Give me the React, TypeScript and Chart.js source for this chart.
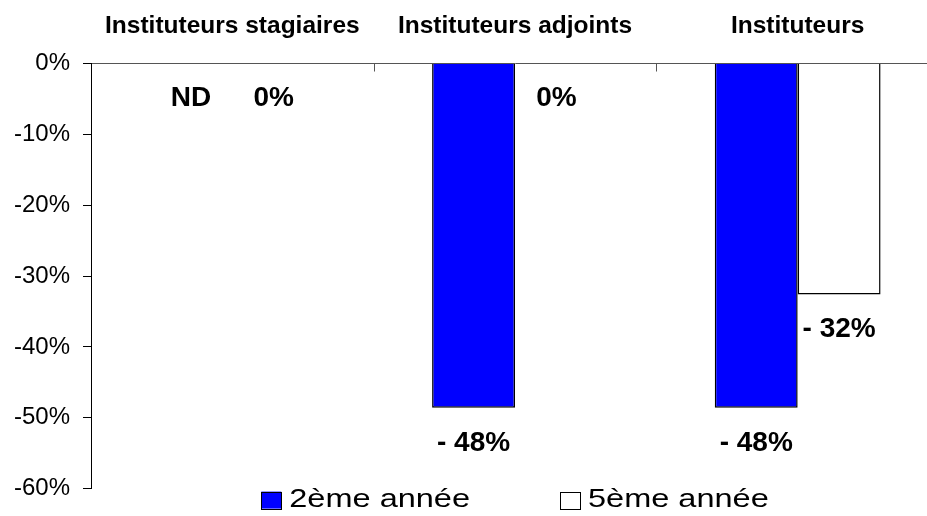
import React, { useEffect, useRef } from 'react';
import { Chart, registerables } from 'chart.js';

Chart.register(...registerables);

// ---- data ----
const categories = ['Instituteurs stagiaires', 'Instituteurs adjoints', 'Instituteurs'];
const seriesNames = ['2ème année', '5ème année'];
const values2eme: (number | null)[] = [null, -48.6, -48.6];
const values5eme: (number | null)[] = [0, 0, -32.6];
const valueLabels2eme = ['ND', '- 48%', '- 48%'];
const valueLabels5eme = ['0%', '0%', '- 32%'];
const yMin = -60;
const yMax = 0;
const yStep = 10;
const yTickSuffix = '%';

const seriesColors = ['#0000FF', '#FFFFFF'];
const allValueLabels = [valueLabels2eme, valueLabels5eme];

const FONT = '"Liberation Sans", Arial, Helvetica, sans-serif';

const valueLabelPlugin = {
  id: 'valueLabels',
  afterDatasetsDraw(chart: any) {
    const ctx = chart.ctx;
    const ys = chart.scales.y;
    ctx.save();
    ctx.font = `bold 28px ${FONT}`;
    ctx.fillStyle = '#000';
    ctx.textAlign = 'center';
    ctx.textBaseline = 'middle';
    chart.data.datasets.forEach((ds: any, di: number) => {
      const meta = chart.getDatasetMeta(di);
      const labels = allValueLabels[di];
      meta.data.forEach((el: any, i: number) => {
        const v = ds.data[i];
        const y = ys.getPixelForValue(v == null ? 0 : v) + 35;
        ctx.fillText(labels[i], el.x, y);
      });
    });
    ctx.restore();
  },
};

const inwardTickPlugin = {
  id: 'inwardTicks',
  afterDraw(chart: any) {
    const ctx = chart.ctx;
    const xs = chart.scales.x;
    const top = chart.chartArea.top;
    ctx.save();
    ctx.strokeStyle = '#555';
    ctx.lineWidth = 1;
    ctx.beginPath();
    for (let i = 0; i < categories.length - 1; i++) {
      const px = Math.round((xs.getPixelForValue(i) + xs.getPixelForValue(i + 1)) / 2) + 0.5;
      ctx.moveTo(px, top);
      ctx.lineTo(px, top + 8);
    }
    ctx.stroke();
    ctx.restore();
  },
};

const legendPlugin = {
  id: 'stretchedLegend',
  afterDraw(chart: any) {
    const ctx = chart.ctx;
    const area = chart.chartArea;
    const stretch = 1.3;
    const boxW = 20;
    const boxH = 17;
    const gap = 8;
    const itemGap = 90;
    ctx.save();
    ctx.font = `25px ${FONT}`;
    const items = chart.data.datasets.map((ds: any) => {
      const tw = ctx.measureText(ds.label).width * stretch;
      return { label: ds.label, color: ds.backgroundColor, w: boxW + gap + tw };
    });
    const total = items.reduce((a: number, it: any) => a + it.w, 0) + itemGap * (items.length - 1);
    let x = (area.left + area.right) / 2 - total / 2;
    const cy = area.bottom + 11.5;
    items.forEach((it: any) => {
      ctx.fillStyle = it.color;
      ctx.fillRect(x, cy - boxH / 2, boxW, boxH);
      ctx.strokeStyle = '#000';
      ctx.lineWidth = 1;
      ctx.strokeRect(Math.round(x) + 0.5, Math.round(cy - boxH / 2) + 0.5, boxW, boxH);
      ctx.save();
      ctx.translate(x + boxW + gap, cy);
      ctx.scale(stretch, 1);
      ctx.fillStyle = '#000';
      ctx.textAlign = 'left';
      ctx.textBaseline = 'middle';
      ctx.fillText(it.label, 0, 0);
      ctx.restore();
      x += it.w + itemGap;
    });
    ctx.restore();
  },
};

export default function App() {
  const ref = useRef<HTMLCanvasElement>(null);

  useEffect(() => {
    if (!ref.current) return;
    Chart.defaults.font.family = FONT;
    const chart = new Chart(ref.current, {
      type: 'bar',
      data: {
        labels: categories,
        datasets: [
          {
            label: seriesNames[0],
            data: values2eme,
            backgroundColor: seriesColors[0],
            borderColor: '#000',
            borderWidth: 1.5,
          },
          {
            label: seriesNames[1],
            data: values5eme,
            backgroundColor: seriesColors[1],
            borderColor: '#000',
            borderWidth: 1.5,
          },
        ],
      },
      options: {
        responsive: false,
        animation: false,
        devicePixelRatio: 1,
        layout: { padding: { left: 0, top: 0, right: 6, bottom: 26 } },
        datasets: { bar: { barPercentage: 1, categoryPercentage: 0.5866 } },
        plugins: { legend: { display: false }, tooltip: { enabled: false } },
        scales: {
          x: {
            position: 'top',
            grid: { display: false, drawTicks: false },
            border: { display: true, color: '#555', width: 1 },
            ticks: { font: { size: 24.5, weight: 'bold' }, color: '#000', padding: 23, maxRotation: 0 },
            afterFit: (s: any) => {
              s.height = 63.5;
            },
          },
          y: {
            min: yMin,
            max: yMax,
            ticks: {
              stepSize: yStep,
              callback: (v: any) => `${v}${yTickSuffix}`,
              font: { size: 24 },
              color: '#000',
              padding: 13,
            },
            grid: { drawOnChartArea: false, tickLength: 8, color: '#000' },
            border: { color: '#000', width: 1 },
            afterFit: (s: any) => {
              s.width = 91;
            },
          },
        },
      } as any,
      plugins: [valueLabelPlugin, inwardTickPlugin, legendPlugin],
    });
    return () => chart.destroy();
  }, []);

  return (
    <div
      style={{
        position: 'fixed',
        left: 0,
        top: 0,
        width: 927,
        height: 516,
        overflow: 'hidden',
        background: '#fff',
      }}
    >
      <canvas ref={ref} width={945} height={516} />
    </div>
  );
}
